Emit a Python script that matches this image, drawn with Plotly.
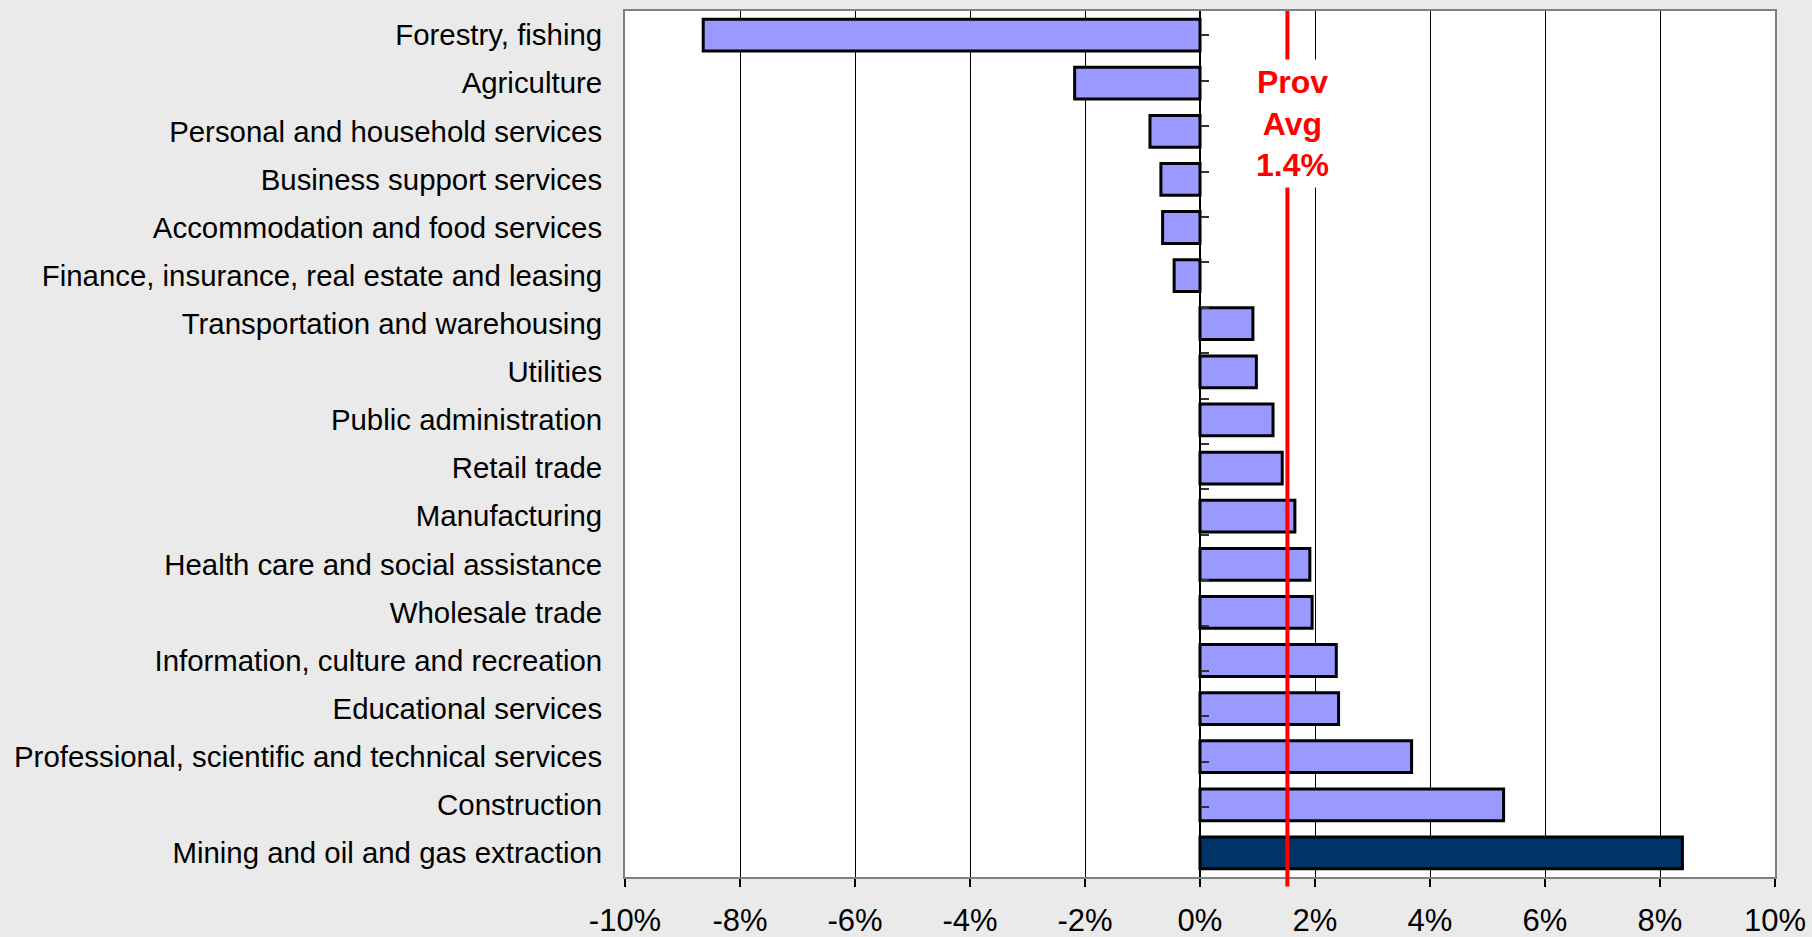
import plotly.graph_objects as go

categories = [
    "Forestry, fishing",
    "Agriculture",
    "Personal and household services",
    "Business support services",
    "Accommodation and food services",
    "Finance, insurance, real estate and leasing",
    "Transportation and warehousing",
    "Utilities",
    "Public administration",
    "Retail trade",
    "Manufacturing",
    "Health care and social assistance",
    "Wholesale trade",
    "Information, culture and recreation",
    "Educational services",
    "Professional, scientific and technical services",
    "Construction",
    "Mining and oil and gas extraction",
]
growth_pct = [-8.64, -2.18, -0.87, -0.68, -0.65, -0.45, 0.92, 0.98, 1.27, 1.43,
              1.65, 1.91, 1.95, 2.37, 2.41, 3.68, 5.28, 8.39]
highlight = "Mining and oil and gas extraction"
prov_avg_line = 1.52
prov_avg_label = "Prov<br>Avg<br>1.4%"
x_tickvals = [-10, -8, -6, -4, -2, 0, 2, 4, 6, 8, 10]
x_ticktext = [f"{v}%" for v in x_tickvals]

FONT = "Liberation Sans, Arial, sans-serif"
colors = ["#003366" if c == highlight else "#9999FF" for c in categories]

fig = go.Figure()
fig.add_trace(go.Bar(
    x=growth_pct, y=categories, orientation="h",
    marker=dict(color=colors, line=dict(color="black", width=3)),
    width=0.66, hoverinfo="skip", showlegend=False,
))
# invisible trace to carry the category-boundary ticks on the zero axis
fig.add_trace(go.Scatter(
    x=[0] * len(categories), y=categories, yaxis="y2", mode="markers",
    marker=dict(opacity=0), hoverinfo="skip", showlegend=False,
))

fig.add_shape(type="line", xref="x", yref="paper",
              x0=prov_avg_line, x1=prov_avg_line, y0=-0.011, y1=1,
              line=dict(color="#FF0000", width=4), layer="above")

fig.add_annotation(
    x=prov_avg_line + 0.08, xref="x", y=1.84, yref="y",
    text=prov_avg_label, showarrow=False,
    font=dict(family=FONT, size=32, color="#FF0000", weight="bold"),
    bgcolor="white", borderpad=4, align="center",
)

fig.update_layout(
    width=1812, height=937,
    paper_bgcolor="#EAEAEA", plot_bgcolor="white",
    margin=dict(l=625, r=37, t=11, b=60, autoexpand=False),
    font=dict(family=FONT, color="black"),
    bargap=0.34,
    xaxis=dict(
        range=[-10, 10], tickvals=x_tickvals, ticktext=x_ticktext,
        showgrid=True, gridcolor="black", gridwidth=1,
        zeroline=True, zerolinecolor="black", zerolinewidth=2,
        showline=True, linecolor="#808080", linewidth=2, mirror=True,
        ticks="outside", ticklen=8, tickcolor="black", tickwidth=1.5,
        tickfont=dict(size=31, family=FONT), ticklabelstandoff=7,
        automargin=False, fixedrange=True,
    ),
    yaxis=dict(
        type="category", categoryorder="array", categoryarray=categories,
        autorange="reversed", showgrid=False,
        showline=True, linecolor="#808080", linewidth=2, mirror=True,
        ticks="", tickfont=dict(size=29.4, family=FONT), ticklabelstandoff=15,
        automargin=False, fixedrange=True,
    ),
    yaxis2=dict(
        type="category", categoryorder="array", categoryarray=categories,
        autorange="reversed", overlaying="y", anchor="free", position=0.5,
        side="right", showgrid=False, showline=False, showticklabels=False,
        ticks="outside", ticklen=8, tickcolor="#333333", tickwidth=1.5,
        tickson="boundaries", automargin=False, fixedrange=True,
    ),
)

fig.write_html("out.html",
               config={"displayModeBar": False},
               post_script="document.body.style.margin='0';"
                           "document.body.style.background='#EAEAEA';")
